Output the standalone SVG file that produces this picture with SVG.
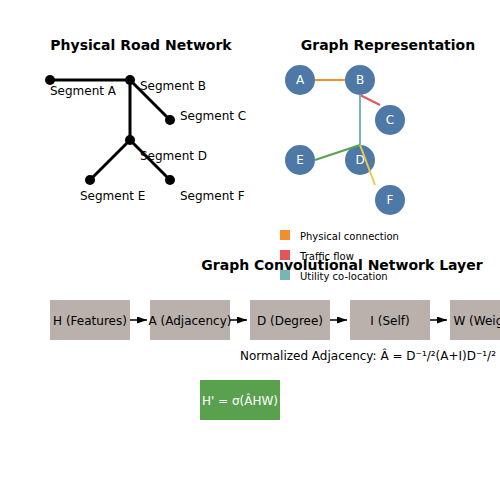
<svg xmlns="http://www.w3.org/2000/svg" width="500" height="500" viewBox="0 0 500 500">
<style>
text{font-family:"DejaVu Sans",sans-serif;fill:#000}
.title{font-size:14px;font-weight:bold;text-anchor:middle}
.lbl{font-size:12px}
.road{stroke:#000;stroke-width:3;fill:none}
.gn{fill:#4e79a7}
.gt{fill:#fff;font-size:12px;text-anchor:middle}
.leg{font-size:10px}
.box{fill:#bab0ac}
.bt{font-size:12px;text-anchor:middle}
.arr{stroke:#000;stroke-width:1.5;marker-end:url(#ah)}
</style>
<defs>
<marker id="ah" viewBox="0 0 10 10" refX="10" refY="5" markerWidth="10" markerHeight="7" markerUnits="userSpaceOnUse" orient="auto" preserveAspectRatio="none"><path d="M0,0L10,5L0,10z" fill="#000"/></marker>
</defs>
<text class="title" x="141" y="50">Physical Road Network</text>
<g id="road">
<path class="road" d="M50,80H130M130,80L170,120M130,80V140M130,140L90,180M130,140L170,180"/>
<g fill="#000"><circle cx="50" cy="80" r="5"/><circle cx="130" cy="80" r="5"/><circle cx="170" cy="120" r="5"/><circle cx="130" cy="140" r="5"/><circle cx="90" cy="180" r="5"/><circle cx="170" cy="180" r="5"/></g>
<text class="lbl" x="50" y="95">Segment A</text>
<text class="lbl" x="140" y="90">Segment B</text>
<text class="lbl" x="180" y="120">Segment C</text>
<text class="lbl" x="140" y="160">Segment D</text>
<text class="lbl" x="80" y="200">Segment E</text>
<text class="lbl" x="180" y="200">Segment F</text>
</g>
<text class="title" x="388" y="50">Graph Representation</text>
<g id="nodeA"><circle class="gn" cx="300" cy="80" r="15"/><text class="gt" x="300" y="84">A</text></g>
<g id="nodeB"><circle class="gn" cx="360" cy="80" r="15"/><text class="gt" x="360" y="84">B</text></g>
<g id="nodeC"><circle class="gn" cx="390" cy="120" r="15"/><text class="gt" x="390" y="124">C</text></g>
<g id="nodeD"><circle class="gn" cx="360" cy="160" r="15"/><text class="gt" x="360" y="164">D</text></g>
<g id="nodeE"><circle class="gn" cx="300" cy="160" r="15"/><text class="gt" x="300" y="164">E</text></g>
<g id="nodeF"><circle class="gn" cx="390" cy="200" r="15"/><text class="gt" x="390" y="204">F</text></g>
<g id="edges" stroke-width="2">
<line x1="315" y1="80" x2="345" y2="80" stroke="#f28e2b"/>
<line x1="360" y1="95" x2="380" y2="105" stroke="#e15759"/>
<line x1="360" y1="95" x2="360" y2="145" stroke="#76b7b2"/>
<line x1="315" y1="160" x2="360" y2="145" stroke="#59a14f"/>
<line x1="360" y1="145" x2="375" y2="185" stroke="#edc948"/>
</g>
<g id="legend">
<rect x="280" y="230" width="10" height="10" fill="#f28e2b"/>
<text class="leg" x="300" y="240">Physical connection</text>
<rect x="280" y="250" width="10" height="10" fill="#e15759"/>
<text class="leg" x="300" y="260">Traffic flow</text>
<rect x="280" y="270" width="10" height="10" fill="#76b7b2"/>
<text class="leg" x="300" y="280">Utility co-location</text>
</g>
<text class="title" x="342" y="270">Graph Convolutional Network Layer</text>
<g id="H"><rect class="box" x="50" y="300" width="80" height="40"/><text class="bt" x="90" y="324.5">H (Features)</text></g>
<g id="A"><rect class="box" x="150" y="300" width="80" height="40"/><text class="bt" x="190" y="324.5">A (Adjacency)</text></g>
<g id="D"><rect class="box" x="250" y="300" width="80" height="40"/><text class="bt" x="290" y="324.5">D (Degree)</text></g>
<g id="I"><rect class="box" x="350" y="300" width="80" height="40"/><text class="bt" x="390" y="324.5">I (Self)</text></g>
<g id="W"><rect class="box" x="450" y="300" width="80" height="40"/><text class="bt" x="490" y="324.5">W (Weights)</text></g>
<g id="arrows">
<line class="arr" x1="130" y1="320" x2="147" y2="320"/>
<line class="arr" x1="230" y1="320" x2="247" y2="320"/>
<line class="arr" x1="330" y1="320" x2="347" y2="320"/>
<line class="arr" x1="430" y1="320" x2="447" y2="320"/>
</g>
<text class="lbl" x="240" y="360">Normalized Adjacency: Â = D⁻¹/²(A+I)D⁻¹/²</text>
<g id="out"><rect x="200" y="380" width="80" height="40" fill="#59a14f"/><text class="bt" x="240" y="404.5" style="fill:#fff">H' = σ(ÂHW)</text></g>
</svg>
